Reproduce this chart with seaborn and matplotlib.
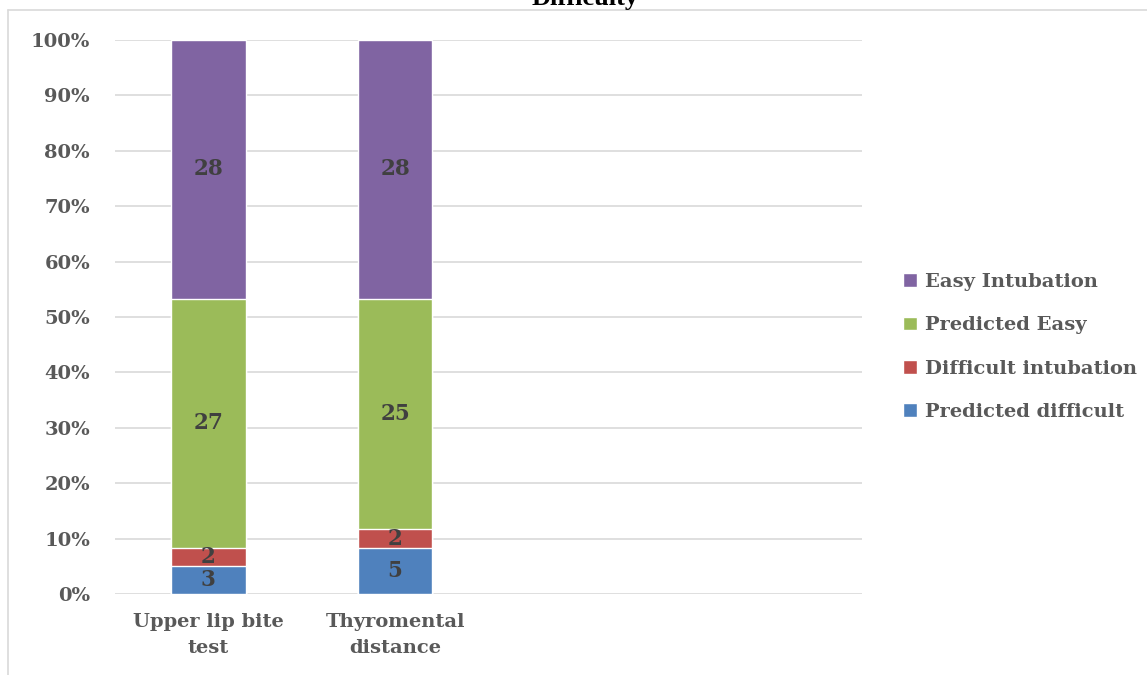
import matplotlib
matplotlib.use("Agg")
import matplotlib.pyplot as plt
import seaborn as sns
import pandas as pd
import numpy as np
from matplotlib.lines import Line2D

# Counts per test (stack order bottom -> top)
tests = ["Upper lip bite test", "Thyromental distance"]
tick_labels = ["Upper lip bite\ntest", "Thyromental\ndistance", "", ""]
series = ["Predicted difficult", "Difficult intubation", "Predicted Easy", "Easy Intubation"]
predicted_difficult = [3, 5]
difficult_intubation = [2, 2]
predicted_easy = [27, 25]
easy_intubation = [28, 28]
colors = ["#4F81BD", "#C0504D", "#9BBB59", "#8064A2"]

sns.set_theme(style="white")
plt.rcParams["font.family"] = ["DejaVu Serif"]

counts = np.array([predicted_difficult, difficult_intubation, predicted_easy, easy_intubation], dtype=float)
totals = counts.sum(axis=0)
pct = counts / totals * 100
cum = np.cumsum(pct, axis=0)

fig = plt.figure(figsize=(11.47, 6.75), dpi=100)
ax = fig.add_axes([115 / 1147, 1 - 594 / 675, (862 - 115) / 1147, (594 - 40) / 675])

order = ["c0", "c1", "c2", "c3"]
cats = ["c0", "c1"]
# draw cumulative heights from the top layer down so each segment shows
for i in range(3, -1, -1):
    df = pd.DataFrame({"cat": cats, "val": cum[i]})
    sns.barplot(data=df, x="cat", y="val", order=order, color=colors[i],
                width=0.4, saturation=1, ax=ax, label=series[i], zorder=3)

# value labels centred in each segment
for j in range(len(tests)):
    for i in range(4):
        lo = cum[i - 1, j] if i > 0 else 0
        mid = (lo + cum[i, j]) / 2
        ax.text(j, mid, f"{int(counts[i, j])}", ha="center", va="center",
                fontsize=15.5, fontweight="bold", color="#404040", zorder=5)

ax.set_ylim(0, 100)
ax.set_xlim(-0.5, 3.5)
ax.set_yticks(np.arange(0, 101, 10))
ax.set_yticklabels([f"{v}%" for v in range(0, 101, 10)])
ax.set_xticks(range(4))
ax.set_xticklabels(tick_labels, linespacing=1.55)
ax.tick_params(axis="both", length=0, labelsize=14, labelcolor="#595959")
for lab in ax.get_xticklabels() + ax.get_yticklabels():
    lab.set_fontweight("bold")
ax.tick_params(axis="y", pad=18)
ax.tick_params(axis="x", pad=14)
ax.set_xlabel("")
ax.set_ylabel("")
ax.yaxis.grid(True, color="#D9D9D9", linewidth=1.2, zorder=0)
ax.set_axisbelow(True)
for s in ax.spines.values():
    s.set_visible(False)

handles, labels = ax.get_legend_handles_labels()
leg = ax.legend(handles, labels, loc="center left", bbox_to_anchor=(1.032, 0.446),
                frameon=False, handlelength=0.7, handleheight=0.7, handletextpad=0.4,
                labelspacing=1.3, prop={"weight": "bold", "size": 14})
for t in leg.get_texts():
    t.set_color("#595959")

# chart frame (top and left edges) and title
fx, fy = 8 / 1147, 1 - 10 / 675
fig.add_artist(Line2D([fx, 1.0], [fy, fy], transform=fig.transFigure,
                      color="#D9D9D9", linewidth=1.2))
fig.add_artist(Line2D([fx, fx], [0.0, fy], transform=fig.transFigure,
                      color="#D9D9D9", linewidth=1.2))
fig.text(585 / 1147, 1 - 5 / 675, "Difficulty", ha="center", va="baseline",
         fontsize=19, fontweight="bold", family="Liberation Serif", color="black")

fig.savefig("out.png", dpi=100)
